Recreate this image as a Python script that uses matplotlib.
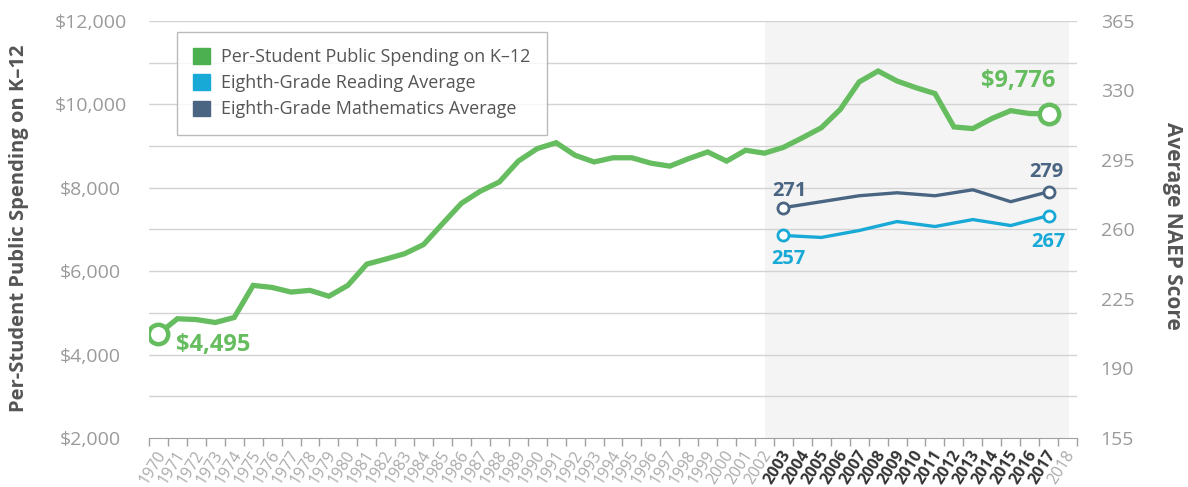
import matplotlib
matplotlib.use('Agg')
from matplotlib import pyplot as plt
from matplotlib.patches import Patch
import matplotlib.transforms as mtransforms
import numpy as np

plt.rcParams['font.family'] = ['Open Sans', 'DejaVu Sans']

# Data
years = list(range(1970, 2018))
spending = [4495, 4860, 4840, 4770, 4890, 5660, 5610, 5500, 5540, 5400,
            5660, 6170, 6290, 6420, 6640, 7140, 7630, 7920, 8140, 8640,
            8940, 9080, 8780, 8620, 8720, 8720, 8590, 8520, 8700, 8860,
            8640, 8900, 8830, 8970, 9200, 9440, 9880, 10540, 10800, 10560,
            10400, 10260, 9460, 9420, 9660, 9850, 9780, 9776]

naep_years = [2003, 2005, 2007, 2009, 2011, 2013, 2015, 2017]
reading = [257, 256, 259.5, 264, 261.5, 265, 262, 267]
math_scores = [271, 274, 277, 278.5, 277, 280, 274, 279]

tick_years = list(range(1970, 2019))

green = '#66BD5F'
green_box = '#4CAF50'
blue = '#19A9D6'
slate = '#4A6582'
grey_txt = '#9A9A9A'

fig = plt.figure(figsize=(11.88, 4.87), dpi=100)
ax = fig.add_axes([149/1188, 1-438/487, 928/1188, 417/487])
ax2 = ax.twinx()

ax.set_xlim(1969.5, 2018.5)
ax.set_ylim(2000, 12000)
ax2.set_ylim(155, 365)

# shaded NAEP period
ax.axvspan(2002, 2018.1, color='#F4F4F4', zorder=0, lw=0)

# grid every 1000
for v in range(3000, 12001, 1000):
    ax.axhline(v, color='#D3D3D3', lw=1, zorder=0.5)

ax.plot(years, spending, color=green, lw=3.8, solid_joinstyle='miter', zorder=3)
ax.plot([years[0], years[-1]], [spending[0], spending[-1]], 'o', ms=14,
        mfc='white', mec=green, mew=3.2, zorder=4, ls='none')

ax2.plot(naep_years, math_scores, color=slate, lw=2.4, zorder=3)
ax2.plot(naep_years, reading, color=blue, lw=2.4, zorder=3)
for ys, c in [(math_scores, slate), (reading, blue)]:
    ax2.plot([naep_years[0], naep_years[-1]], [ys[0], ys[-1]], 'o', ms=8,
             mfc='white', mec=c, mew=2, ls='none', zorder=4)

# annotations
ax.text(1970.95, spending[0] - 260, '$4,495', color=green, fontsize=17,
        fontweight='bold', ha='left', va='center')
ax.text(2017.35, spending[-1] + 780, '$9,776', color=green, fontsize=17,
        fontweight='bold', ha='right', va='center')
ax2.text(2003.3, math_scores[0] + 8.5, f'{math_scores[0]}', color=slate, fontsize=14.5,
         fontweight='bold', ha='center', va='center')
ax2.text(2016.9, math_scores[-1] + 10, f'{math_scores[-1]}', color=slate, fontsize=14.5,
         fontweight='bold', ha='center', va='center')
ax2.text(2003.25, reading[0] - 11.7, f'{reading[0]}', color=blue, fontsize=14.5,
         fontweight='bold', ha='center', va='center')
ax2.text(2017, reading[-1] - 13.3, f'{reading[-1]}', color=blue, fontsize=14.5,
         fontweight='bold', ha='center', va='center')

# axes styling
for a in (ax, ax2):
    for s in ('left', 'right', 'top'):
        a.spines[s].set_visible(False)
ax.spines['bottom'].set_color('#A0A0A0')
ax2.spines['bottom'].set_visible(False)

ax.set_yticks(range(2000, 12001, 2000))
ax.set_yticklabels([f'${v:,}' for v in range(2000, 12001, 2000)], ha='center')
ax.tick_params(axis='y', length=0, pad=42, labelsize=14, labelcolor=grey_txt)
ax2.set_yticks(range(155, 366, 35))
ax2.tick_params(axis='y', length=0, pad=17, labelsize=14, labelcolor=grey_txt)

ax.set_xticks(tick_years)
ax.set_xticklabels([str(y) for y in tick_years], rotation=58, ha='right',
                   rotation_mode='anchor', va='center')
ax.set_xticks(np.array(tick_years + [2019]) - 0.5, minor=True)
ax.tick_params(axis='x', which='major', length=0, pad=10, labelsize=11.5)
ax.tick_params(axis='x', which='minor', length=6, color='#A0A0A0', width=1)
shift = mtransforms.ScaledTranslation(4/100, 0, fig.dpi_scale_trans)
for lbl, y in zip(ax.get_xticklabels(), tick_years):
    lbl.set_transform(lbl.get_transform() + shift)
    if 2003 <= y <= 2017:
        lbl.set_color('#333333')
        lbl.set_fontweight('bold')
    else:
        lbl.set_color('#AAAAAA')

fig.text(19/1188, 1-228/487, 'Per-Student Public Spending on K–12', rotation=90,
         ha='center', va='center', fontsize=14.5, fontweight='bold', color='#555555')
fig.text(1173/1188, 1-226/487, 'Average NAEP Score', rotation=270,
         ha='center', va='center', fontsize=15, fontweight='bold', color='#555555')

handles = [Patch(color=green_box, label='Per-Student Public Spending on K–12'),
           Patch(color=blue, label='Eighth-Grade Reading Average'),
           Patch(color=slate, label='Eighth-Grade Mathematics Average')]
leg = ax2.legend(handles=handles, loc='upper left',
                 bbox_to_anchor=((177-149)/928, (438-32)/417), borderaxespad=0,
                 fontsize=13, frameon=True, fancybox=False, handlelength=0.95,
                 handleheight=0.95, handletextpad=0.6, labelspacing=0.45,
                 borderpad=0.9, labelcolor='#555555')
leg.get_frame().set_edgecolor('#AAAAAA')
leg.get_frame().set_linewidth(1)
leg.set_zorder(10)

plt.savefig('out.png', dpi=100)
